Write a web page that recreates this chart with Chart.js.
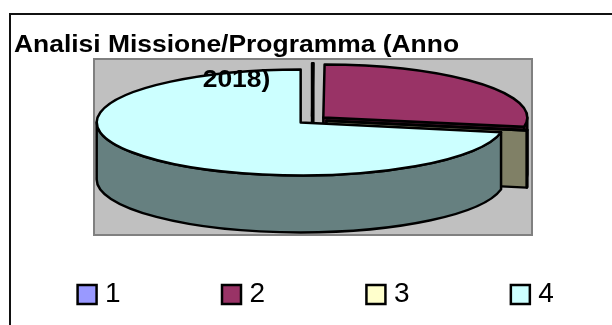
<!DOCTYPE html>
<html>
<head>
<meta charset="utf-8">
<script src="https://cdn.jsdelivr.net/npm/chart.js@4"></script>
<style>
    html, body { margin: 0; padding: 0; background: #fff; }
    #wrap { position: relative; width: 612px; height: 325px; overflow: hidden; }
    #frame { position: absolute; left: 9px; top: 13px; width: 700px; height: 400px; border: 2px solid #111; }
    canvas { position: absolute; left: 0; top: 0; }
</style>
</head>
<body>
<div id="wrap">
    <div id="frame"></div>
    <canvas id="myPie" width="612" height="325"></canvas>
</div>
<script>
// data
const categories = ['1', '2', '3', '4'];
const shares = [0.1, 27.7, 0.2, 72];
const topColors = ['#9999ff', '#993366', '#ffffcc', '#ccffff'];
const wallColors = ['#4d4d80', '#4d1a33', '#808066', '#668080'];
const titleLines = ['Analisi Missione/Programma (Anno', '2018)'];

// 3d look: where the squashed pie goes on the page
const pieX = 312, pieY = 120, pieRx = 204, pieRy = 53, pieDepth = 57;
const explode = 7.5;
const outlineWidth = 2.5;
const plotBox = { left: 94, top: 59, right: 532, bottom: 235 };
const titleCenter = 236.5, titleStretch = 1.125;

// gets ellipse numbers for one slice
function sliceShape(chart, arc) {
    const area = chart.chartArea;
    const sx = pieRx / arc.outerRadius, sy = pieRy / arc.outerRadius;
    const cx = (area.left + area.right) / 2, cy = (area.top + area.bottom) / 2;
    return {
        x: pieX + (arc.x - cx) * sx,
        y: pieY + (arc.y - cy) * sy,
        a0: arc.startAngle,
        a1: arc.endAngle,
        sx: sx,
        sy: sy,
        cx: cx,
        cy: cy
    };
}

function drawFace(ctx, s, angle) {
    const ex = s.x + Math.cos(angle) * pieRx;
    const ey = s.y + Math.sin(angle) * pieRy;
    ctx.beginPath();
    ctx.moveTo(s.x, s.y);
    ctx.lineTo(ex, ey);
    ctx.lineTo(ex, ey + pieDepth);
    ctx.lineTo(s.x, s.y + pieDepth);
    ctx.closePath();
    ctx.fill();
    ctx.stroke();
}

const pie3d = {
    id: 'pie3d',
    beforeLayout(chart) {
        // title has to sit on top of the pie
        const block = chart.titleBlock;
        block._layers = () => [{
            z: 10,
            draw(area) {
                const shift = (block.left + block.right) / 2;
                chart.ctx.save();
                chart.ctx.translate(titleCenter, 0);
                chart.ctx.scale(titleStretch, 1);
                chart.ctx.translate(-shift, 0);
                block.draw(area);
                chart.ctx.restore();
            }
        }];
    },
    afterDatasetsUpdate(chart) {
        // pull every slice away from the middle
        chart.getDatasetMeta(0).data.forEach((arc) => {
            const mid = (arc.startAngle + arc.endAngle) / 2;
            arc.x += Math.cos(mid) * explode;
            arc.y += Math.sin(mid) * explode;
        });
    },
    beforeDraw(chart) {
        const ctx = chart.ctx, a = plotBox;
        ctx.save();
        ctx.fillStyle = '#c0c0c0';
        ctx.strokeStyle = '#808080';
        ctx.lineWidth = 2;
        ctx.fillRect(a.left, a.top, a.right - a.left, a.bottom - a.top);
        ctx.strokeRect(a.left, a.top, a.right - a.left, a.bottom - a.top);
        ctx.restore();
    },
    beforeDatasetsDraw(chart) {
        const ctx = chart.ctx;
        const meta = chart.getDatasetMeta(0);
        ctx.save();
        ctx.strokeStyle = '#000';
        ctx.lineWidth = outlineWidth;
        ctx.lineJoin = 'round';
        meta.data.forEach((arc, i) => {
            const s = sliceShape(chart, arc);
            ctx.fillStyle = wallColors[i];
            if (Math.cos(s.a1) > 0) drawFace(ctx, s, s.a1);
            if (Math.cos(s.a0) < 0) drawFace(ctx, s, s.a0);
            const from = Math.max(s.a0, 0), to = Math.min(s.a1, Math.PI);
            if (to > from) {
                ctx.beginPath();
                ctx.ellipse(s.x, s.y, pieRx, pieRy, 0, from, to);
                ctx.ellipse(s.x, s.y + pieDepth, pieRx, pieRy, 0, to, from, true);
                ctx.closePath();
                ctx.fill();
                ctx.stroke();
            }
        });
        ctx.restore();
        // squash the library's own arcs, restored in afterDatasetsDraw
        const s = sliceShape(chart, meta.data[0]);
        ctx.save();
        ctx.translate(pieX, pieY);
        ctx.scale(s.sx, s.sy);
        ctx.translate(-s.cx, -s.cy);
    },
    afterDatasetsDraw(chart) {
        const ctx = chart.ctx;
        ctx.restore();
        ctx.save();
        ctx.strokeStyle = '#000';
        ctx.lineWidth = outlineWidth;
        ctx.lineJoin = 'round';
        chart.getDatasetMeta(0).data.forEach((arc) => {
            const s = sliceShape(chart, arc);
            ctx.beginPath();
            ctx.moveTo(s.x, s.y);
            ctx.ellipse(s.x, s.y, pieRx, pieRy, 0, s.a0, s.a1);
            ctx.closePath();
            ctx.stroke();
        });
        ctx.restore();
    }
};

let ctx = document.getElementById('myPie').getContext('2d');

let myPie = new Chart(ctx, {
    type: 'pie',
    data: {
        labels: categories,
        datasets: [{
            data: shares,
            backgroundColor: topColors,
            borderWidth: 0,
            clip: false
        }]
    },
    plugins: [pie3d],
    options: {
        responsive: false,
        animation: false,
        events: [],
        layout: { padding: { left: 25, bottom: 6.5 } },
        plugins: {
            tooltip: { enabled: false },
            title: {
                display: true,
                text: titleLines,
                color: '#000',
                font: { family: 'Liberation Sans', size: 23.5, weight: 'bold', lineHeight: 1.49 },
                padding: { top: 28, bottom: -39 }
            },
            legend: {
                display: true,
                position: 'bottom',
                labels: {
                    color: '#000',
                    font: { family: 'Liberation Sans', size: 28 },
                    usePointStyle: true,
                    pointStyle: 'rect',
                    boxWidth: 8,
                    boxHeight: 19,
                    padding: 13.5,
                    generateLabels(chart) {
                        return Chart.overrides.pie.plugins.legend.labels.generateLabels(chart).map((item, i) => {
                            item.strokeStyle = '#000';
                            item.lineWidth = outlineWidth;
                            // trailing spaces keep the entries far apart on one row
                            if (i < categories.length - 1) item.text = item.text + ' '.repeat(12);
                            return item;
                        });
                    }
                }
            }
        }
    }
});
</script>
</body>
</html>
